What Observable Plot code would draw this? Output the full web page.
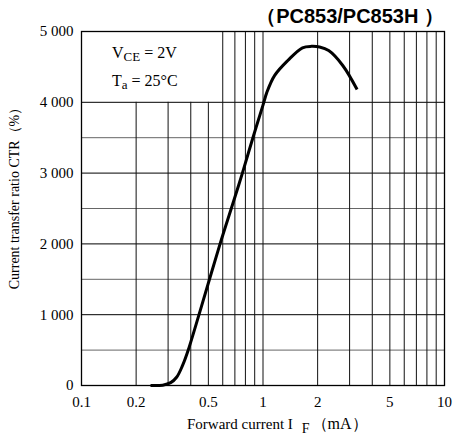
<!DOCTYPE html>
<html>
<head>
<meta charset="utf-8">
<script src="https://cdn.jsdelivr.net/npm/d3@7"></script>
<script src="https://cdn.jsdelivr.net/npm/@observablehq/plot@0.6"></script>
<style>
  html, body { margin: 0; padding: 0; background: #fff; }
  #chart { width: 461px; height: 440px; }
</style>
</head>
<body>
<div id="chart"></div>
<script>
// ---- data ----
const currentIF = [0.24, 0.28, 0.31, 0.335, 0.36, 0.385, 0.45, 0.58, 0.69, 0.77, 0.88, 1.0, 1.05, 1.16, 1.37, 1.65, 1.85, 2.05, 2.3, 2.75, 3.3];
const ctrValues = [0, 5, 40, 120, 280, 480, 1050, 2000, 2610, 3000, 3500, 3960, 4140, 4380, 4590, 4770, 4790, 4780, 4730, 4520, 4180];
const currentTicks = [0.1, 0.2, 0.5, 1, 2, 5, 10];
const ctrTicks = [0, 1000, 2000, 3000, 4000, 5000];
const gridXShort = [0.2, 0.3, 0.4, 0.5];
const gridXFull = [0.6, 0.7, 0.8, 0.9, 1, 2, 3, 4, 5, 6, 7, 8, 9];
const gridYMajor = [1000, 2000, 3000, 4000];
const gridYMinor = [500, 1500, 2500, 3500];
const titleText = "（PC853/PC853H ）";
const yLabel = "Current transfer ratio CTR（%）";

const curve = currentIF.map((x, i) => ({x, y: ctrValues[i]}));
const fmtY = d => d === 0 ? "0" : d3.format(",")(d).replace(/,/g, " ");
const serif = "'Liberation Serif', 'Times New Roman', serif";

const chart = Plot.plot({
  width: 461,
  height: 440,
  marginLeft: 81,
  marginRight: 17,
  marginTop: 31,
  marginBottom: 55,
  style: {fontFamily: serif, fontSize: "15px", color: "#000", background: "#fff"},
  x: {type: "log", domain: [0.1, 10], label: null},
  y: {domain: [0, 5000], label: null},
  marks: [
    Plot.ruleY(gridYMinor, {x1: 0.1, x2: 10, stroke: "#666", strokeWidth: 1}),
    Plot.ruleY(gridYMajor, {x1: 0.1, x2: 10, stroke: "#000", strokeWidth: 1}),
    Plot.ruleX(gridXShort, {y1: 0, y2: 4000, stroke: "#111", strokeWidth: 1}),
    Plot.ruleX(gridXFull, {y1: 0, y2: 5000, stroke: "#111", strokeWidth: 1}),
    Plot.frame({stroke: "#000", strokeWidth: 1.3}),
    Plot.line(curve, {x: "x", y: "y", curve: "catmull-rom", stroke: "#000", strokeWidth: 3, strokeLinejoin: "round", strokeLinecap: "butt"}),
    Plot.axisX({ticks: currentTicks, tickFormat: d => String(d), tickSize: 0, tickPadding: 11, label: null, fontSize: 15}),
    Plot.axisY({ticks: ctrTicks, tickFormat: fmtY, tickSize: 0, tickPadding: 8, label: null, fontSize: 15})
  ]
});

document.getElementById("chart").appendChild(chart);

const svg = d3.select(chart);
const sx = chart.scale("x");

// title
svg.append("text")
  .attr("x", sx.apply(10)).attr("y", 23)
  .attr("text-anchor", "end")
  .style("font-family", "'Liberation Sans', Arial, sans-serif")
  .style("font-weight", "bold").style("font-size", "20px")
  .text(titleText);

// annotation box text
const ann = svg.append("g")
  .attr("text-anchor", "start")
  .style("font-family", serif)
  .style("font-size", "16px");
const t1 = ann.append("text").attr("x", 112).attr("y", 58);
t1.append("tspan").text("V");
t1.append("tspan").attr("dy", 3).style("font-size", "13px").text("CE");
t1.append("tspan").attr("dy", -3).text(" = 2V");
const t2 = ann.append("text").attr("x", 112).attr("y", 86);
t2.append("tspan").text("T");
t2.append("tspan").attr("dy", 3).style("font-size", "13px").text("a");
t2.append("tspan").attr("dy", -3).text(" = 25°C");

// x label
const xl = svg.append("text")
  .attr("x", 187).attr("y", 429)
  .attr("text-anchor", "start")
  .style("font-family", serif)
  .style("font-size", "15px");
xl.append("tspan").text("Forward current I");
xl.append("tspan").attr("dx", 9).attr("dy", 4).style("font-size", "14px").text("F");
xl.append("tspan").attr("dx", 2).attr("dy", -4).style("font-size", "16px").text("（mA）");

// y label
svg.append("text")
  .attr("transform", "translate(19,195) rotate(-90)")
  .attr("text-anchor", "middle")
  .style("font-family", serif)
  .style("font-size", "14px")
  .text(yLabel);
</script>
</body>
</html>
